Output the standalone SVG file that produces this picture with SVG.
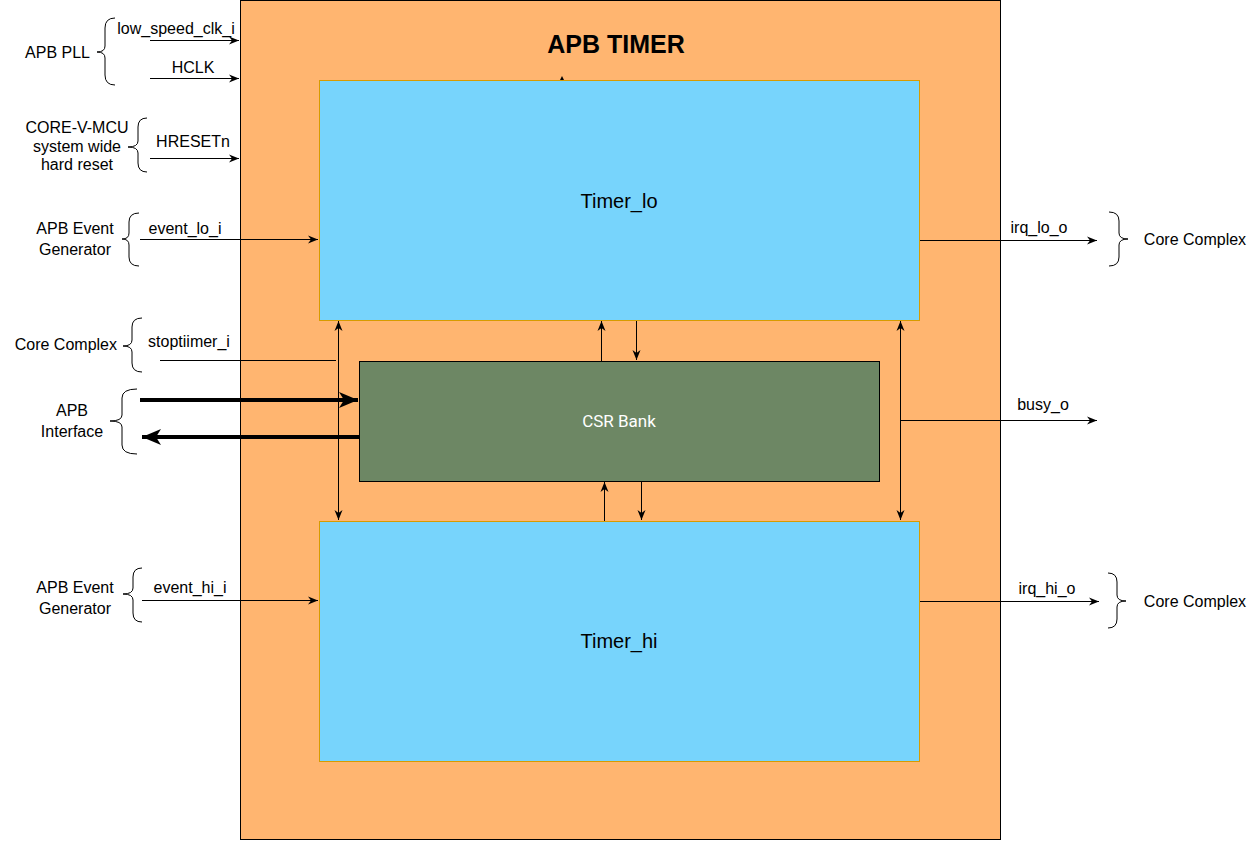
<svg xmlns="http://www.w3.org/2000/svg" width="1259" height="841" viewBox="0 0 1259 841">
<style>
text{font-family:"Liberation Sans",Arial,sans-serif;font-size:16px;fill:#000}
.c{text-anchor:middle}
.e{text-anchor:end}
.ln{stroke:#000;stroke-width:1;fill:none}
.thick{stroke:#000;stroke-width:4;fill:none}
.br{stroke:#000;stroke-width:1;fill:none}
.timer{fill:#77D4FC;stroke:#D79B00;stroke-width:1}
</style>
<defs>
<marker id="a" markerUnits="userSpaceOnUse" markerWidth="12" markerHeight="10" refX="10" refY="4" orient="auto-start-reverse" viewBox="0 0 12 8">
<path d="M0,0 L10,4 L0,8 L3,4 z" fill="#000"/>
</marker>
<marker id="t" markerUnits="userSpaceOnUse" markerWidth="20" markerHeight="18" refX="19" refY="8" orient="auto" viewBox="0 0 20 16">
<path d="M0,0 L19,8 L0,16 L5,8 z" fill="#000"/>
</marker>
</defs>
<rect x="0" y="0" width="1259" height="841" fill="#fff"/>
<g id="apb_timer">
<rect x="240.5" y="0.5" width="760" height="839" fill="#FFB570" stroke="#000" stroke-width="1"/>
<text x="616" y="53" class="c" style="font-size:25px;font-weight:bold">APB TIMER</text>
</g>
<g id="timer_lo">
<rect class="timer" x="319.5" y="80.5" width="600" height="240"/>
<text x="619" y="208" class="c" style="font-size:20px">Timer_lo</text>
</g>
<g id="timer_hi">
<rect class="timer" x="319.5" y="521.5" width="600" height="240"/>
<text x="619" y="648" class="c" style="font-size:20px">Timer_hi</text>
</g>
<g id="csr_bank">
<rect x="359.5" y="361.5" width="520" height="120" fill="#6D8764" stroke="#000" stroke-width="1"/>
<text x="619" y="427" class="c" style="fill:#fff;font-family:'Roboto','Liberation Sans',sans-serif;font-size:17px">CSR Bank</text>
</g>
<g id="labels_left">
<path class="br" d="M115,18 Q105,18 105,28 L105,46 Q105,52 97,52 Q105,52 105,58 L105,75 Q105,85 115,85"/>
<text x="90" y="58" class="e">APB PLL</text>
<path class="br" d="M147,118 Q138,118 138,127 L138,141 Q138,147 128,147 Q138,147 138,153 L138,163 Q138,172 147,172"/>
<text x="77" y="133" class="c">CORE-V-MCU</text>
<text x="77" y="152" class="c">system wide</text>
<text x="77" y="170" class="c">hard reset</text>
<path class="br" d="M139,213 Q129,213 129,222 L129,233 Q129,239 122,239 Q129,239 129,245 L129,257 Q129,266 139,266"/>
<text x="75" y="234" class="c">APB Event</text>
<text x="75" y="255" class="c">Generator</text>
<path class="br" d="M142,318 Q132,318 132,327 L132,340 Q132,346 123,346 Q132,346 132,352 L132,363 Q132,372 142,372"/>
<text x="117" y="350" class="e">Core Complex</text>
<path class="br" d="M137,389 Q122,389 122,398 L122,415 Q122,421 110,421 Q122,421 122,427 L122,445 Q122,454 137,454"/>
<text x="72" y="416" class="c">APB</text>
<text x="72" y="437" class="c">Interface</text>
<path class="br" d="M142,568 Q133,568 133,577 L133,588 Q133,594 123,594 Q133,594 133,600 L133,613 Q133,622 142,622"/>
<text x="75" y="593" class="c">APB Event</text>
<text x="75" y="614" class="c">Generator</text>
</g>
<g id="labels_right">
<path class="br" d="M1109,212 Q1119,212 1119,221 L1119,233 Q1119,239 1128,239 Q1119,239 1119,245 L1119,257 Q1119,266 1109,266"/>
<text x="1195" y="245" class="c">Core Complex</text>
<path class="br" d="M1108,573 Q1117,573 1117,582 L1117,595 Q1117,601 1126,601 Q1117,601 1117,607 L1117,619 Q1117,628 1108,628"/>
<text x="1195" y="607" class="c">Core Complex</text>
</g>
<g id="connectors">
<path class="ln" d="M150,40.5 L239,40.5" marker-end="url(#a)"/>
<text x="176" y="34" class="c">low_speed_clk_i</text>
<path class="ln" d="M150,78.5 L239,78.5" marker-end="url(#a)"/>
<text x="193" y="73" class="c">HCLK</text>
<path class="ln" d="M150,158.5 L239,158.5" marker-end="url(#a)"/>
<text x="193" y="147" class="c">HRESETn</text>
<path class="ln" d="M140,239.5 L318,239.5" marker-end="url(#a)"/>
<text x="185" y="234" class="c">event_lo_i</text>
<path class="ln" d="M160,360.5 L336,360.5"/>
<text x="189" y="347" class="c">stoptiimer_i</text>
<path class="thick" d="M140,400 L358,400" marker-end="url(#t)"/>
<path class="thick" d="M359,437 L142,437" marker-end="url(#t)"/>
<path class="ln" d="M142,600.5 L318,600.5" marker-end="url(#a)"/>
<text x="190" y="593" class="c">event_hi_i</text>
<path class="ln" d="M338.5,321 L338.5,520" marker-start="url(#a)" marker-end="url(#a)"/>
<path class="ln" d="M900.5,321 L900.5,520" marker-start="url(#a)" marker-end="url(#a)"/>
<path class="ln" d="M601.5,361 L601.5,321" marker-end="url(#a)"/>
<path class="ln" d="M636.5,321 L636.5,360" marker-end="url(#a)"/>
<path class="ln" d="M604.5,521 L604.5,482" marker-end="url(#a)"/>
<path class="ln" d="M641.5,482 L641.5,520" marker-end="url(#a)"/>
<path class="ln" d="M920,240.5 L1097,240.5" marker-end="url(#a)"/>
<text x="1039" y="233" class="c">irq_lo_o</text>
<path class="ln" d="M900.5,420.5 L1097,420.5" marker-end="url(#a)"/>
<text x="1043" y="410" class="c">busy_o</text>
<path class="ln" d="M920,601.5 L1099,601.5" marker-end="url(#a)"/>
<text x="1047" y="594" class="c">irq_hi_o</text>
<path d="M560,80 L562,76 L564,80 z" fill="#000"/>
</g>
</svg>
